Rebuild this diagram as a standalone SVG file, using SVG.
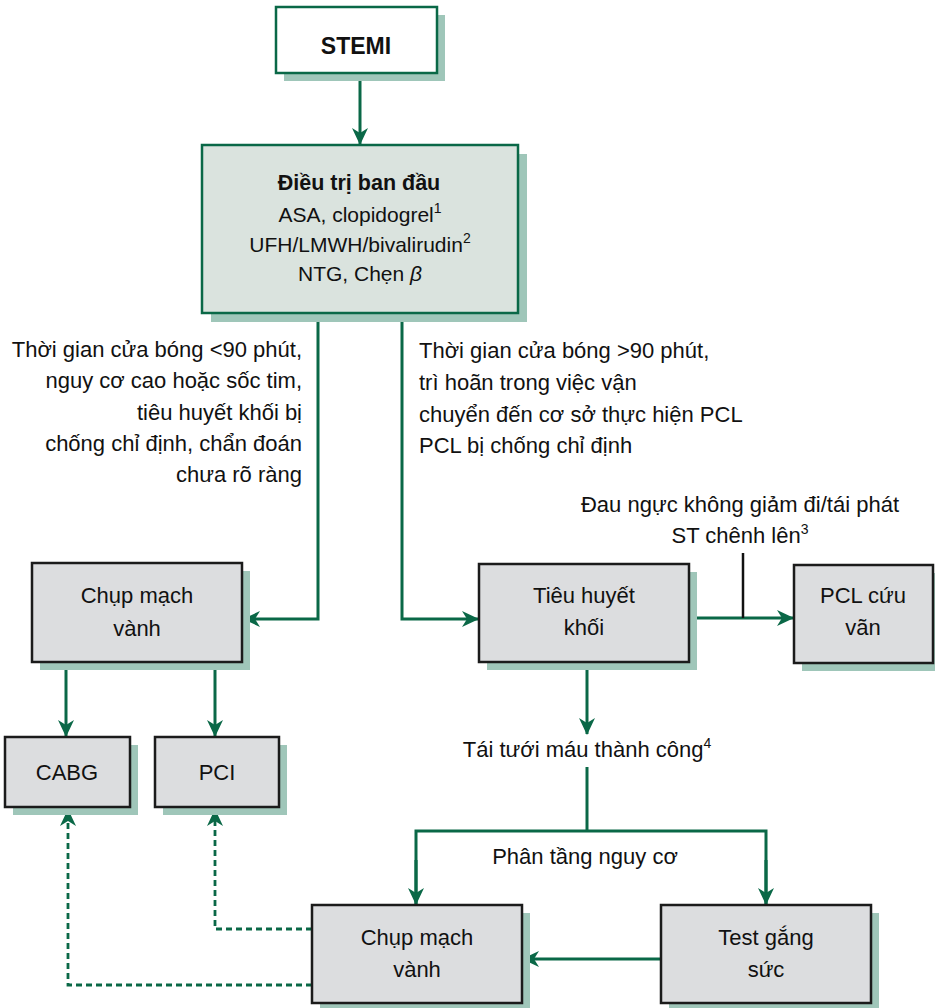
<svg xmlns="http://www.w3.org/2000/svg" width="935" height="1008" viewBox="0 0 935 1008">
  <defs>
    <marker id="arrow" markerUnits="userSpaceOnUse" markerWidth="18" markerHeight="16" refX="16" refY="8" orient="auto">
      <path d="M0,0 L17,8 L0,16 L5,8 Z" fill="#0a6847"/>
    </marker>
  </defs>
  <style>
    .shadow { fill: #9fc6b9; }
    .box { fill: #dcdddf; stroke: #1b1b1b; stroke-width: 2.5; }
    .boxg { fill: #dae3de; stroke: #0a6847; stroke-width: 2.5; }
    .boxw { fill: #ffffff; stroke: #0a6847; stroke-width: 2.5; }
    .t { font-family: "Liberation Sans", Arial, sans-serif; font-size: 22px; fill: #111; }
    .c { text-anchor: middle; }
    .r { text-anchor: end; }
    .b { font-weight: bold; }
    .sup { font-size: 14px; }
    .ln { fill: none; stroke: #0a6847; stroke-width: 3; }
    .dash { fill: none; stroke: #0a6847; stroke-width: 2.8; stroke-dasharray: 6 4; }
  </style>

  <rect width="935" height="1008" fill="#ffffff"/>

  <!-- connectors -->
  <g id="connectors">
    <line class="ln" x1="360" y1="73" x2="360" y2="144" marker-end="url(#arrow)"/>
    <polyline class="ln" points="318,313 318,619 244,619" marker-end="url(#arrow)"/>
    <polyline class="ln" points="402,313 402,619 478,619" marker-end="url(#arrow)"/>
    <line class="ln" x1="66" y1="662" x2="66" y2="736" marker-end="url(#arrow)"/>
    <line class="ln" x1="215" y1="662" x2="215" y2="736" marker-end="url(#arrow)"/>
    <line class="ln" x1="689" y1="618" x2="793" y2="618" marker-end="url(#arrow)"/>
    <line x1="743" y1="553" x2="743" y2="618" stroke="#111" stroke-width="2.5"/>
    <line class="ln" x1="587" y1="662" x2="587" y2="734" marker-end="url(#arrow)"/>
    <line class="ln" x1="587" y1="767" x2="587" y2="831"/>
    <polyline class="ln" points="416,904 416,831 766,831 766,904"/>
    <line class="ln" x1="416" y1="860" x2="416" y2="904" marker-end="url(#arrow)"/>
    <line class="ln" x1="766" y1="860" x2="766" y2="904" marker-end="url(#arrow)"/>
    <line class="ln" x1="661" y1="959" x2="523" y2="959" marker-end="url(#arrow)"/>
    <polyline class="dash" points="312,985 68,985 68,810" marker-end="url(#arrow)"/>
    <polyline class="dash" points="312,929 215,929 215,810" marker-end="url(#arrow)"/>
  </g>

  <!-- branch labels -->
  <g id="label-left" class="t r">
    <text x="302" y="357">Thời gian cửa bóng &lt;90 phút,</text>
    <text x="302" y="388">nguy cơ cao hoặc sốc tim,</text>
    <text x="302" y="420">tiêu huyết khối bị</text>
    <text x="302" y="451">chống chỉ định, chẩn đoán</text>
    <text x="302" y="482">chưa rõ ràng</text>
  </g>
  <g id="label-right" class="t">
    <text x="419" y="358">Thời gian cửa bóng &gt;90 phút,</text>
    <text x="419" y="390">trì hoãn trong việc vận</text>
    <text x="419" y="422">chuyển đến cơ sở thực hiện PCL</text>
    <text x="419" y="453">PCL bị chống chỉ định</text>
  </g>
  <g id="label-rescue" class="t c">
    <text x="740" y="512">Đau ngực không giảm đi/tái phát</text>
    <text x="740" y="543">ST chênh lên<tspan class="sup" dy="-9">3</tspan></text>
  </g>
  <g id="label-reperfusion" class="t c">
    <text x="587" y="757">Tái tưới máu thành công<tspan class="sup" dy="-9">4</tspan></text>
  </g>
  <g id="label-risk" class="t c">
    <text x="585" y="864">Phân tầng nguy cơ</text>
  </g>

  <!-- nodes -->
  <g id="stemi">
    <rect class="shadow" x="284" y="15" width="161" height="66"/>
    <rect class="boxw" x="276" y="7" width="161" height="66"/>
    <text class="t c b" x="356" y="54" style="font-size:23px">STEMI</text>
  </g>

  <g id="initial-treatment">
    <rect class="shadow" x="211" y="154" width="316" height="168"/>
    <rect class="boxg" x="202" y="145" width="316" height="168"/>
    <text class="t c b" x="359" y="190" style="font-size:21.5px">Điều trị ban đầu</text>
    <text class="t c" x="360" y="222" style="font-size:21px">ASA, clopidogrel<tspan class="sup" dy="-9">1</tspan></text>
    <text class="t c" x="360" y="252" style="font-size:21px">UFH/LMWH/bivalirudin<tspan class="sup" dy="-9">2</tspan></text>
    <text class="t c" x="360" y="281" style="font-size:21px">NTG, Chẹn <tspan font-style="italic">β</tspan></text>
  </g>

  <g id="angio-primary">
    <rect class="shadow" x="40" y="571" width="210" height="99"/>
    <rect class="box" x="32" y="563" width="210" height="99"/>
    <text class="t c" x="137" y="603">Chụp mạch</text>
    <text class="t c" x="137" y="636">vành</text>
  </g>

  <g id="cabg">
    <rect class="shadow" x="13" y="745" width="125" height="70"/>
    <rect class="box" x="5" y="737" width="125" height="70"/>
    <text class="t c" x="67" y="780">CABG</text>
  </g>

  <g id="pci">
    <rect class="shadow" x="163" y="745" width="124" height="70"/>
    <rect class="box" x="155" y="737" width="124" height="70"/>
    <text class="t c" x="217" y="780">PCI</text>
  </g>

  <g id="fibrinolysis">
    <rect class="shadow" x="487" y="572" width="210" height="98"/>
    <rect class="box" x="479" y="564" width="210" height="98"/>
    <text class="t c" x="584" y="603">Tiêu huyết</text>
    <text class="t c" x="584" y="635">khối</text>
  </g>

  <g id="rescue-pci">
    <rect class="shadow" x="802" y="573" width="139" height="98"/>
    <rect class="box" x="794" y="565" width="139" height="98"/>
    <text class="t c" x="863" y="603">PCL cứu</text>
    <text class="t c" x="863" y="635">vãn</text>
  </g>

  <g id="angio-late">
    <rect class="shadow" x="320" y="913" width="210" height="98"/>
    <rect class="box" x="312" y="905" width="210" height="98"/>
    <text class="t c" x="417" y="945">Chụp mạch</text>
    <text class="t c" x="417" y="977">vành</text>
  </g>

  <g id="stress-test">
    <rect class="shadow" x="669" y="913" width="210" height="98"/>
    <rect class="box" x="661" y="905" width="210" height="98"/>
    <text class="t c" x="766" y="945">Test gắng</text>
    <text class="t c" x="766" y="977">sức</text>
  </g>
</svg>
